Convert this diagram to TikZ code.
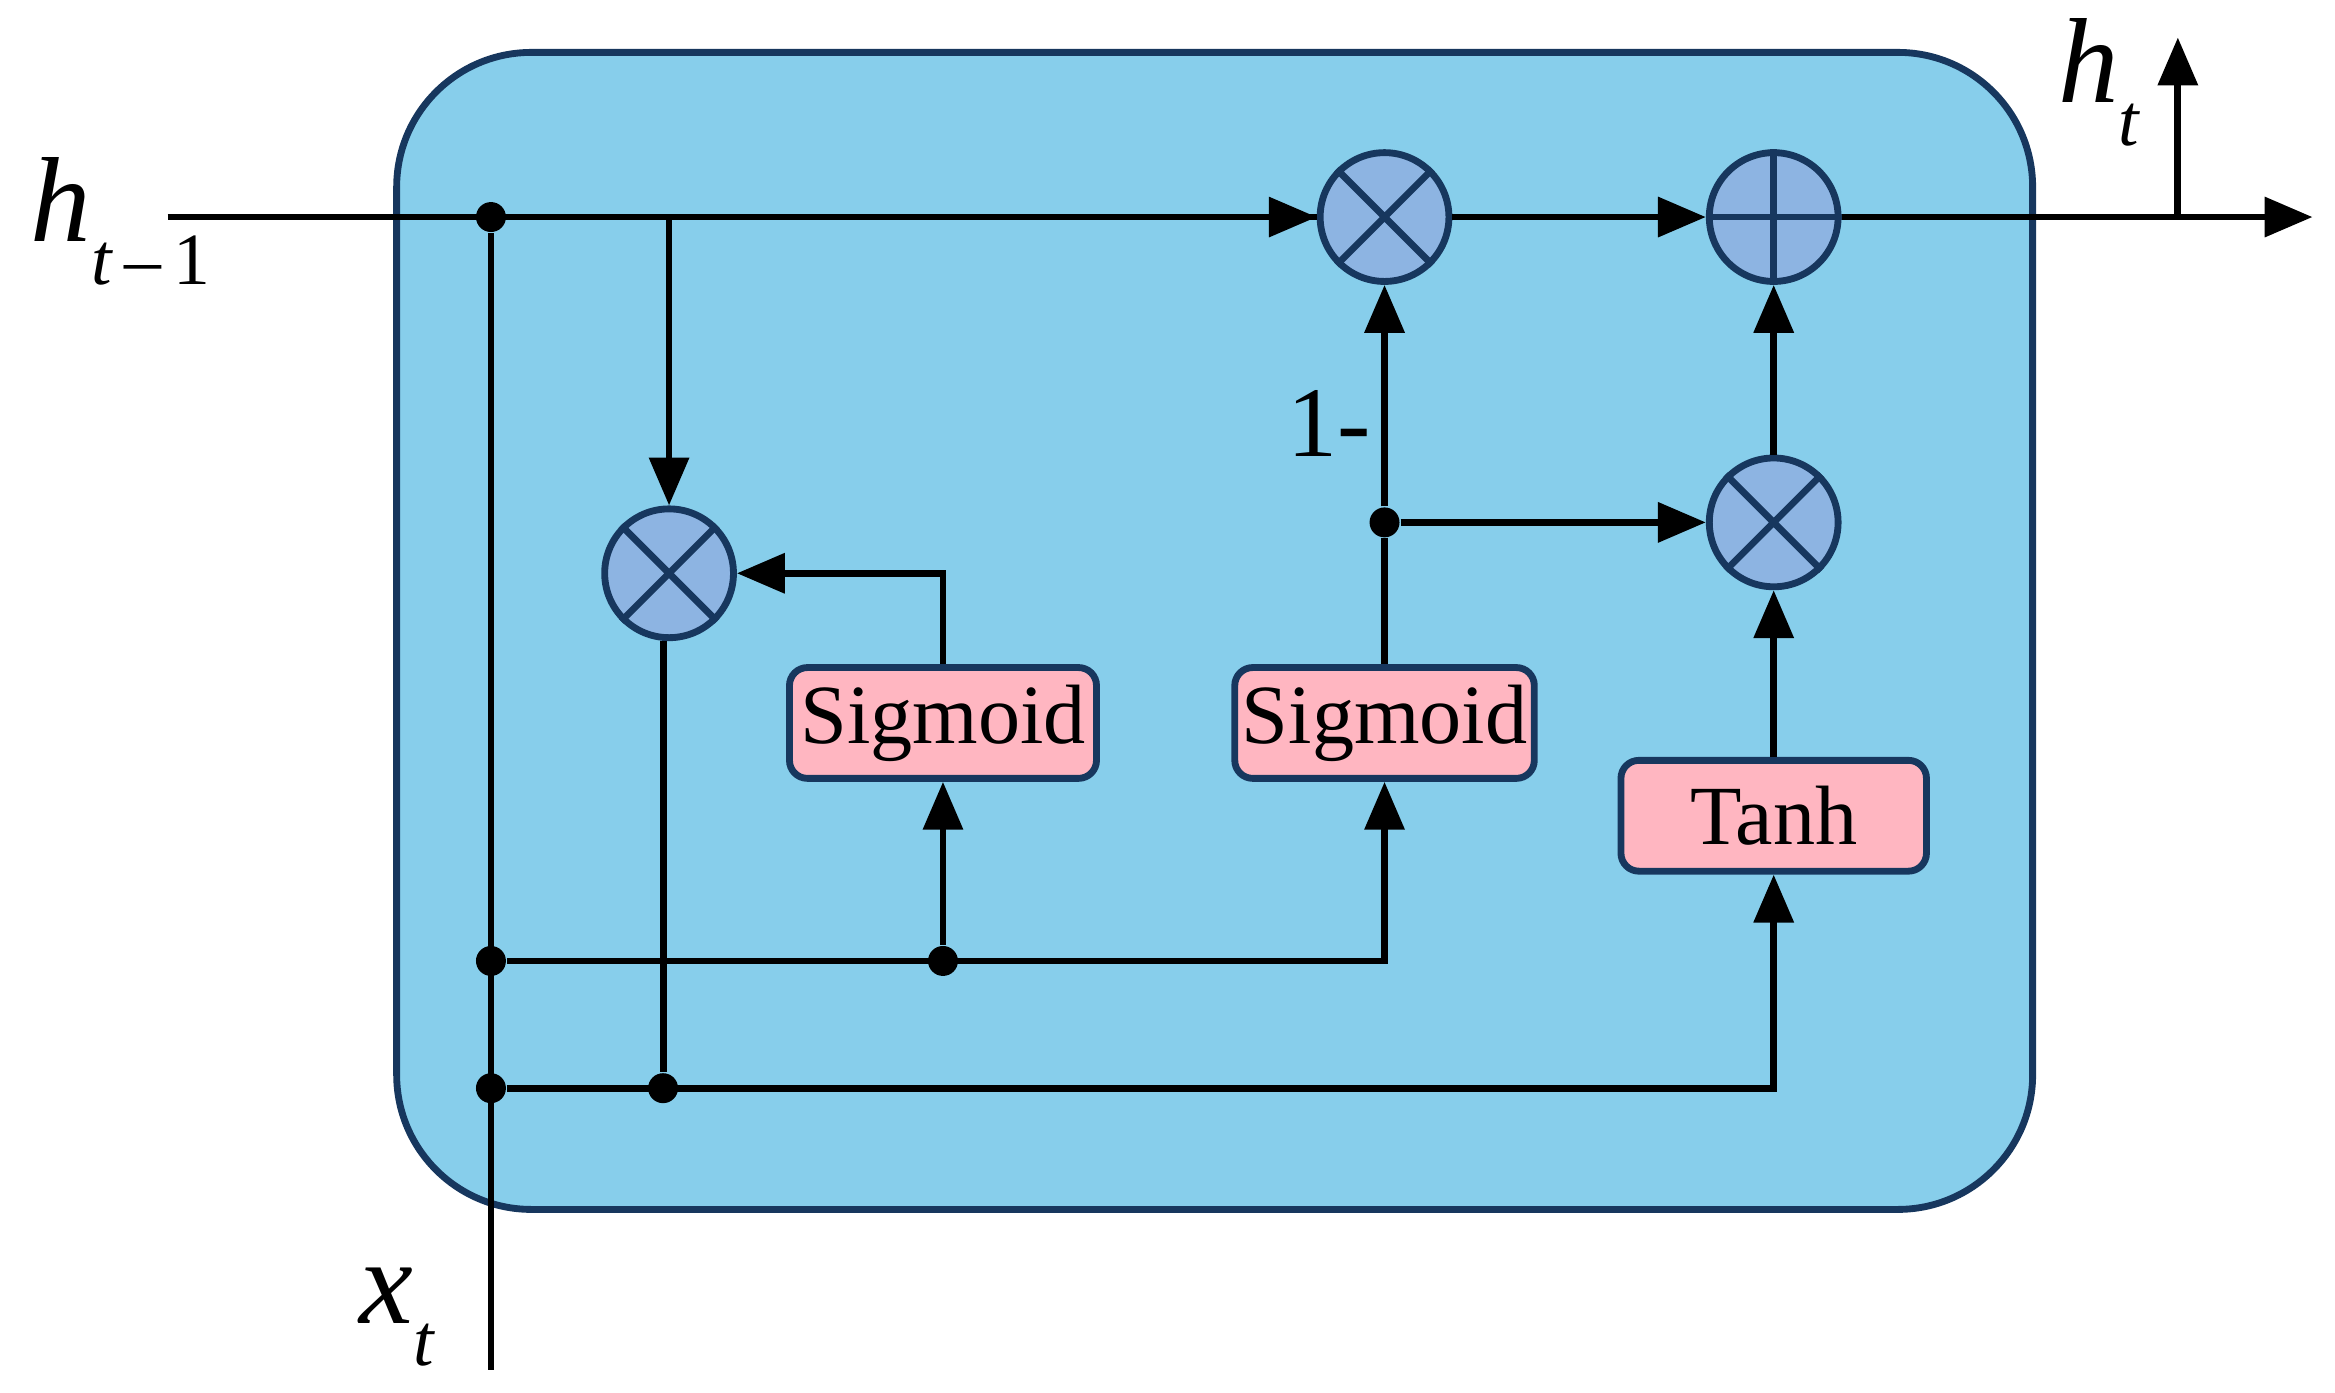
\documentclass[tikz,border=0pt]{standalone}
\usepackage{fontspec}
\setmainfont{Liberation Serif}
\usetikzlibrary{arrows.meta}
\definecolor{cellblue}{HTML}{87CEEB}
\definecolor{navy}{HTML}{17375E}
\definecolor{opblue}{HTML}{8DB4E2}
\definecolor{boxpink}{HTML}{FFB6C1}
\newcommand{\mysub}[1]{\raisebox{-0.35em}{\fontsize{14}{16}\selectfont #1}}
\begin{document}
\begin{tikzpicture}[x=0.01cm,y=-0.01cm,
  wire/.style={line width=1.3pt},
  arr/.style={wire,-{Triangle[length=0.32cm,width=0.26cm]}},
  op/.style={circle,draw=navy,fill=opblue,line width=1.3pt,minimum size=0.86cm,inner sep=0pt},
  gate/.style={draw=navy,fill=boxpink,line width=1.3pt,rounded corners=0.12cm,minimum height=0.74cm,inner sep=0pt,font=\fontsize{16}{18}\selectfont},
  dot/.style={circle,fill=black,minimum size=0.2cm,inner sep=0pt},
  lbl/.style={font=\fontsize{23}{26}\selectfont\itshape,inner sep=0pt}]
\useasboundingbox (0,0) rectangle (1560,930);
\draw[navy,fill=cellblue,line width=1.3pt,rounded corners=0.9cm] (265,35) rectangle (1358,808);
% nodes
\node[op] (m1) at (447,383) {};
\node[op] (m2) at (925,145) {};
\node[op] (m3) at (1185,349) {};
\node[op] (p1) at (1185,145) {};
\foreach \n in {m1,m2,m3}{
  \draw[navy,line width=1.3pt] (\n.north east)--(\n.south west) (\n.north west)--(\n.south east);}
\draw[navy,line width=1.3pt] (p1.north)--(p1.south) (p1.west)--(p1.east);
\node[gate,minimum width=2.05cm] (s1) at (630,483) {Sigmoid};
\node[gate,minimum width=2.0cm] (s2) at (925,483) {Sigmoid};
\node[gate,minimum width=2.04cm] (th) at (1185,545) {Tanh};
\node[dot] (d0) at (328,145) {};
\node[dot] (d1) at (328,642) {};
\node[dot] (d2) at (328,727) {};
\node[dot] (d3) at (630,642) {};
\node[dot] (d4) at (443,727) {};
\node[dot] (d5) at (925,349) {};
\coordinate (hin) at (112,145);
\coordinate (hout) at (1545,145);
\coordinate (b1) at (447,145);
\coordinate (oh) at (1455,145);
\coordinate (ohe) at (1455,25);
\coordinate (xin) at (328,915);
\node[lbl,anchor=west] (lh) at (20,148) {h\mysub{t\,\textup{–}\,\textup{1}}};
\node[lbl] (lht) at (1402,55) {h\mysub{t}};
\node[lbl] (lx) at (265,880) {x\mysub{t}};
\node[font=\fontsize{19}{21}\selectfont] (one) at (888,283) {1-};
% wires
\draw[wire] (hin) -- (m2.west);
\draw[arr] (d0) -- (m2.west);
\draw[arr] (m2.east) -- (p1.west);
\draw[arr] (p1.east) -- (hout);
\draw[arr] (oh) -- (ohe);
\draw[wire] (d0) -- (xin);
\draw[arr] (b1) -- (m1.north);
\draw[wire] (m1.south) ++(-4,0) -- (d4);
\draw[arr] (s1.north) |- (m1.east);
\draw[arr] (d3) -- (s1.south);
\draw[arr] (d1) -| (s2.south);
\draw[wire] (s2.north) -- (d5);
\draw[arr] (d5) -- (m2.south);
\draw[arr] (d5) -- (m3.west);
\draw[arr] (m3.north) -- (p1.south);
\draw[arr] (th.north) -- (m3.south);
\draw[arr] (d2) -| (th.south);
\end{tikzpicture}
\end{document}
